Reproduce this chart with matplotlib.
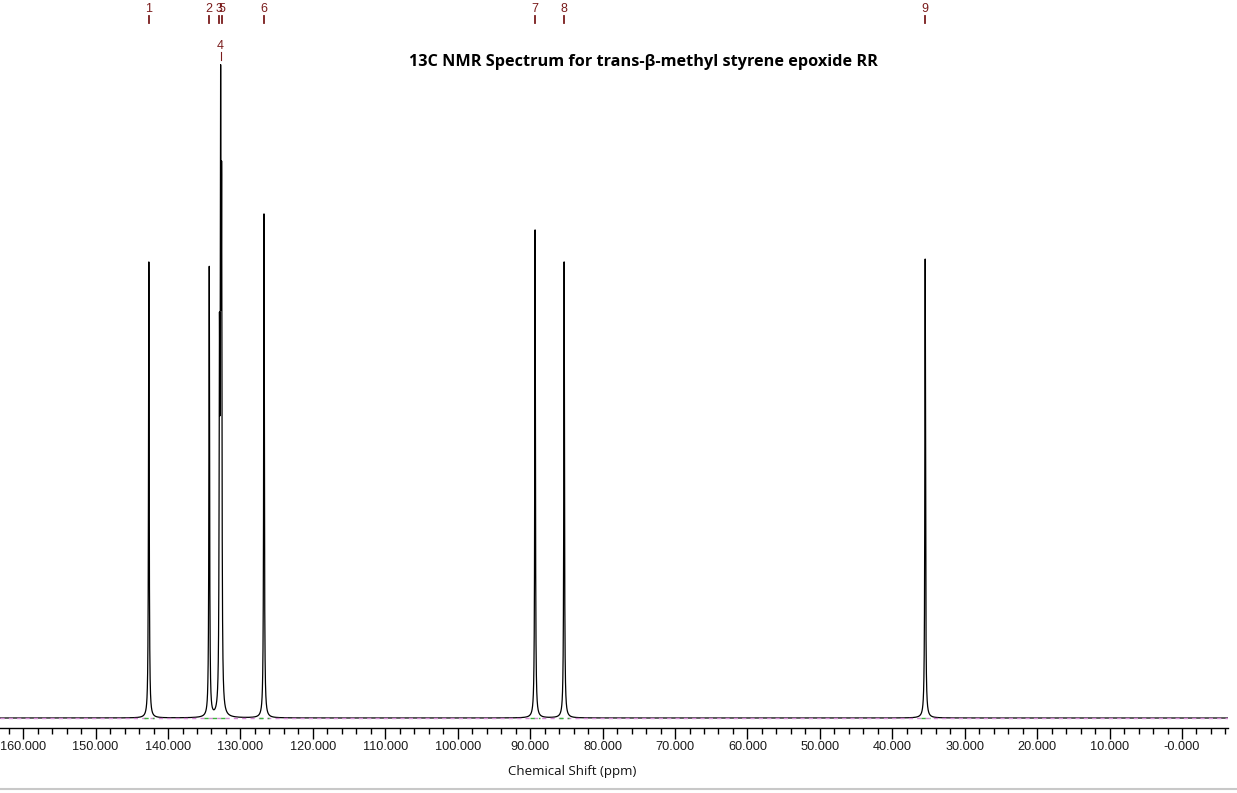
import numpy as np
import matplotlib
matplotlib.use("Agg")
import matplotlib.pyplot as plt
from matplotlib.ticker import MultipleLocator, FuncFormatter

# ---- data ----
peak_labels = ["1", "2", "3", "4", "5", "6", "7", "8", "9"]
peak_ppm = [142.65, 134.31, 132.90, 132.74, 132.60, 126.75, 89.32, 85.31, 35.46]
peak_height = [456, 450, 330, 555, 470, 504, 488, 456, 459]
peak_width = 0.055  # half width at half maximum (ppm)

title = "13C NMR Spectrum for trans-\u03b2-methyl styrene epoxide RR"
xlabel = "Chemical Shift (ppm)"

x_left, x_right = 163.2, -6.35
W, H = 1237, 793
fig = plt.figure(figsize=(W / 100, H / 100), dpi=100)
ax_bottom_px, ax_top_px = 728, 0
ax = fig.add_axes([0, (H - ax_bottom_px) / H, 1228 / W, (ax_bottom_px - ax_top_px) / H])

ppm = np.linspace(x_left, x_right, 80000)
spec = np.zeros_like(ppm)
for p, h in zip(peak_ppm, peak_height):
    spec += h * peak_width ** 2 / ((ppm - p) ** 2 + peak_width ** 2)

ax.plot(ppm, spec, color="black", lw=0.9, zorder=3)
# baseline overlay (dashed magenta) and integration region marks (green)
ax.plot([x_left, x_right], [0, 0], color="#d48ad4", lw=1.0, ls=(0, (3, 3)), zorder=4)
groups = [(143.3, 142.0), (135.0, 131.9), (127.4, 126.1), (90.0, 88.7), (86.0, 84.7), (36.1, 34.8)]
for a, b in groups:
    ax.plot([a, b], [0, 0], color="#3cb43c", lw=1.0, ls=(0, (3, 3)), zorder=5)

ax.set_xlim(x_left, x_right)
ax.set_ylim(-10, 718)

for s in ["top", "left", "right"]:
    ax.spines[s].set_visible(False)
ax.spines["bottom"].set_linewidth(1.0)
ax.set_yticks([])
ax.xaxis.set_major_locator(MultipleLocator(10))
ax.xaxis.set_minor_locator(MultipleLocator(2))

def fmt(v, pos):
    if abs(v) < 1e-9:
        return "-0.000"
    return f"{v:.3f}"

ax.xaxis.set_major_formatter(FuncFormatter(fmt))
ax.tick_params(axis="x", which="major", length=8, width=1, direction="out", pad=1,
               labelsize=9.2, labelcolor="#1a1a1a")
ax.tick_params(axis="x", which="minor", length=4, width=1, direction="out")
for t in ax.get_xticklabels():
    t.set_fontfamily("Liberation Sans")

fig.text(572 / W, 1 - 771 / H, xlabel, fontsize=9.5, fontfamily="Open Sans",
         color="#111111", ha="center", va="center")

# peak labels at the top
lab_color = "#7a1c1c"
for lab, p in zip(peak_labels, peak_ppm):
    if lab == "4":
        ty, t0, t1 = 672, 666, 658
    else:
        ty, t0, t1 = 709, 702, 695
    ax.text(p, ty, lab, color=lab_color, fontsize=9, fontfamily="Liberation Sans",
            ha="center", va="center", zorder=6)
    ax.plot([p, p], [t0, t1], color=lab_color, lw=1.3 if lab != "4" else 0.8, zorder=6)

fig.text(643 / W, 1 - 62 / H, title, fontsize=11.7, fontweight="bold", fontfamily="Open Sans",
         ha="center", va="center")

# window border line at bottom
fig.add_artist(plt.Line2D([0, 1], [1 - 789 / H, 1 - 789 / H], color="#c8c8c8", lw=1.5,
                          transform=fig.transFigure))

fig.savefig("out.png", dpi=100)
